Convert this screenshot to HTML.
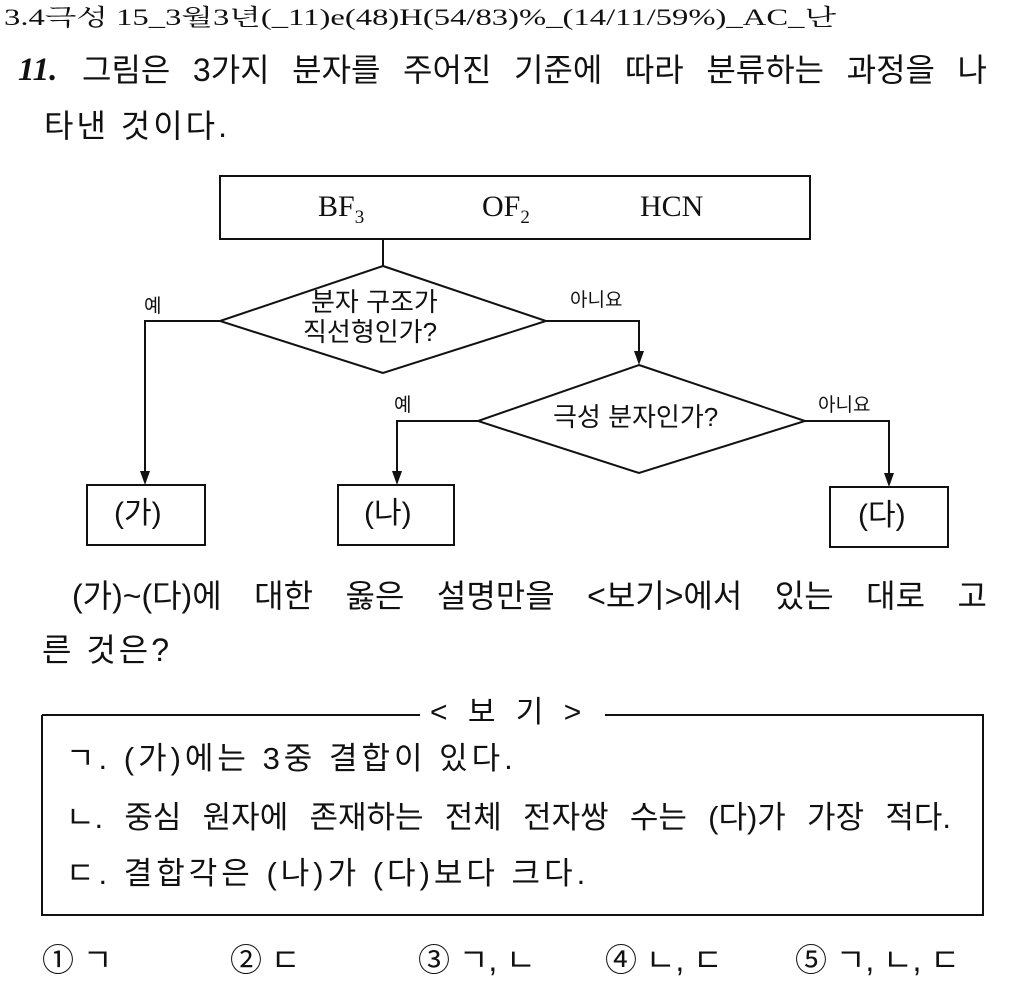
<!DOCTYPE html>
<html><head><meta charset="utf-8"><style>
body{margin:0;width:1024px;height:982px;background:#fff;position:relative;overflow:hidden;font-family:"Liberation Sans","Noto Sans CJK KR",sans-serif;color:#111}
.a{position:absolute;white-space:nowrap;line-height:1}
.j{position:absolute;text-align:justify;text-align-last:justify;white-space:nowrap;line-height:1}
.s{font-family:"Liberation Serif","Noto Serif CJK SC",serif}
</style></head><body>
<div class="a s" style="left:4px;top:6px;font-size:23px;transform:scaleX(1.42);transform-origin:0 0;">3.4극성 15_3월3년(_11)e(48)H(54/83)%_(14/11/59%)_AC_난</div>
<div class="a" style="left:18px;top:54px;font-size:33px;font-style:italic;font-weight:bold;font-family:'Liberation Serif',serif;">11.</div>
<div class="j" style="left:82px;top:54px;width:905px;font-size:32px;">그림은 3가지 분자를 주어진 기준에 따라 분류하는 과정을 나</div>
<div class="a" style="left:44px;top:110px;font-size:32px;letter-spacing:3px;">타낸 것이다.</div>

<svg style="position:absolute;left:0;top:0" width="1024" height="982">
<g fill="none" stroke="#111" stroke-width="2">
<rect x="220" y="176" width="590" height="63"/>
<line x1="383" y1="239" x2="383" y2="266"/>
<polygon points="383,266 546,321 383,373 220,321"/>
<polyline points="220,321 145,321 145,475"/>
<polyline points="546,321 639,321 639,355"/>
<polygon points="639,365 805,421 639,473 478,421"/>
<polyline points="478,421 397,421 397,475"/>
<polyline points="805,421 889,421 889,477"/>
<rect x="87" y="485" width="118" height="60"/>
<rect x="338" y="485" width="116" height="60"/>
<rect x="830" y="487" width="118" height="60"/>
<polyline points="42,715 42,915 983,915 983,715 605,715"/>
<line x1="42" y1="715" x2="420" y2="715"/>
</g>
<g fill="#111">
<polygon points="140,471 150,471 145,485"/>
<polygon points="634,351 644,351 639,365"/>
<polygon points="392,471 402,471 397,485"/>
<polygon points="884,473 894,473 889,487"/>
</g>
</svg>
<div class="a s" style="left:318px;top:192px;font-size:30px;">BF<sub style="font-size:19px">3</sub></div>
<div class="a s" style="left:482px;top:192px;font-size:30px;">OF<sub style="font-size:19px">2</sub></div>
<div class="a s" style="left:640px;top:192px;font-size:30px;">HCN</div>
<div class="a" style="left:311px;top:289px;font-size:26px;">분자 구조가</div>
<div class="a" style="left:303px;top:319px;font-size:26px;">직선형인가?</div>
<div class="a" style="left:553px;top:404px;font-size:26px;">극성 분자인가?</div>
<div class="a" style="left:144px;top:297px;font-size:19px;">예</div>
<div class="a" style="left:570px;top:291px;font-size:19px;">아니요</div>
<div class="a" style="left:394px;top:396px;font-size:19px;">예</div>
<div class="a" style="left:818px;top:396px;font-size:19px;">아니요</div>
<div class="a" style="left:114px;top:499px;font-size:30px;">(가)</div>
<div class="a" style="left:364px;top:499px;font-size:30px;">(나)</div>
<div class="a" style="left:858px;top:501px;font-size:30px;">(다)</div>

<div class="j" style="left:72px;top:580px;width:915px;font-size:32px;">(가)~(다)에 대한 옳은 설명만을 &lt;보기&gt;에서 있는 대로 고</div>
<div class="a" style="left:42px;top:634px;font-size:32px;letter-spacing:3px;">른 것은?</div>

<div class="a" style="left:430px;top:698px;font-size:30px;letter-spacing:6px;">&lt; 보 기 &gt;</div>
<div class="a" style="left:66px;top:743px;font-size:31px;letter-spacing:4px;">ㄱ. (가)에는 3중 결합이 있다.</div>
<div class="j" style="left:66px;top:802px;width:885px;font-size:31px;">ㄴ. 중심 원자에 존재하는 전체 전자쌍 수는 (다)가 가장 적다.</div>
<div class="a" style="left:66px;top:858px;font-size:31px;letter-spacing:4px;">ㄷ. 결합각은 (나)가 (다)보다 크다.</div>

<div class="a" style="left:42px;top:944px;font-size:32px;">① ㄱ</div>
<div class="a" style="left:230px;top:944px;font-size:32px;">② ㄷ</div>
<div class="a" style="left:418px;top:944px;font-size:32px;">③ ㄱ, ㄴ</div>
<div class="a" style="left:605px;top:944px;font-size:32px;">④ ㄴ, ㄷ</div>
<div class="a" style="left:795px;top:944px;font-size:32px;">⑤ ㄱ, ㄴ, ㄷ</div>
</body></html>
